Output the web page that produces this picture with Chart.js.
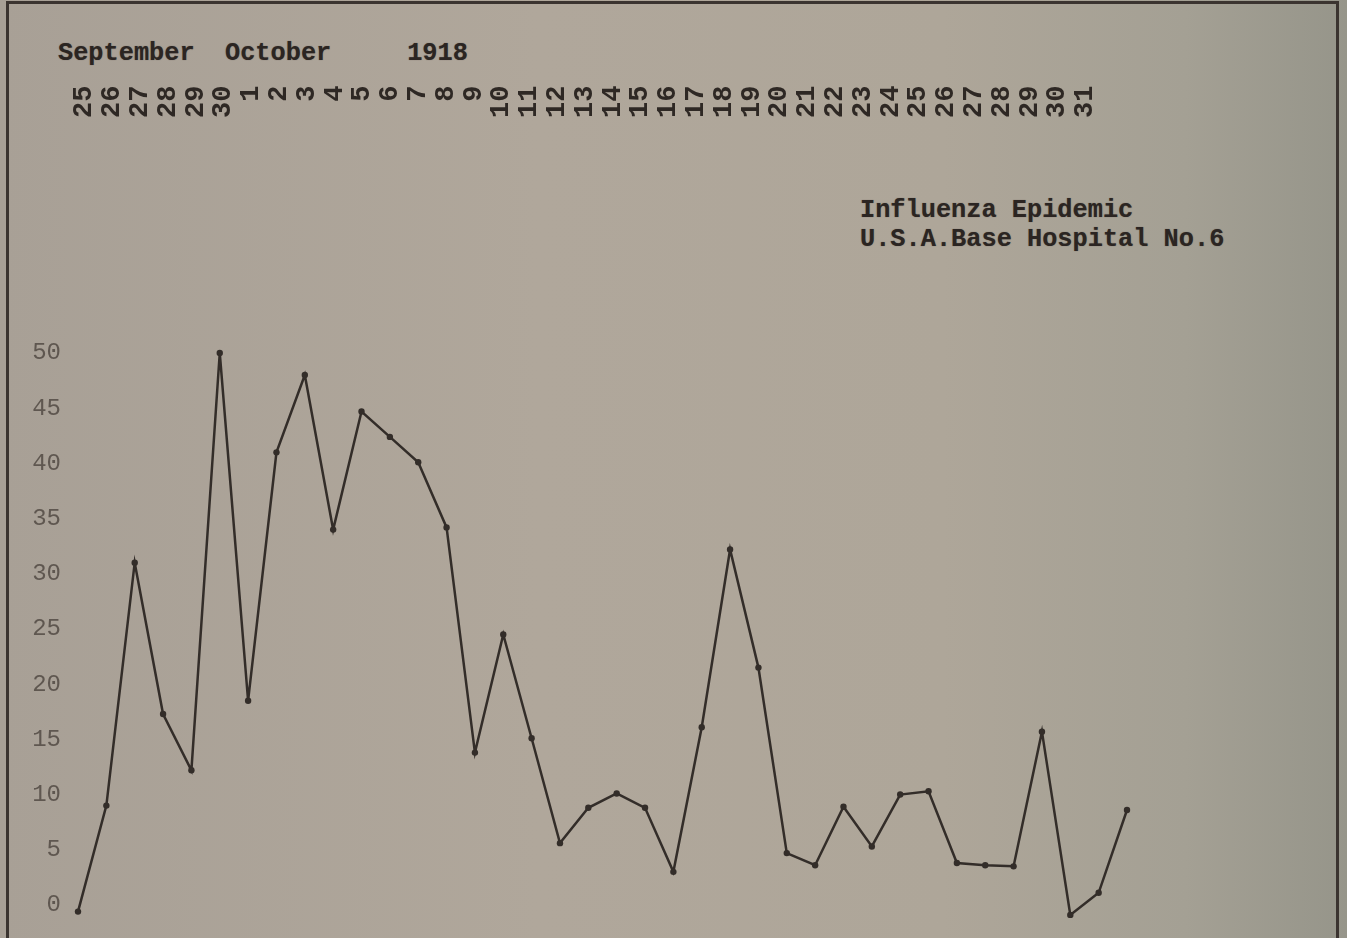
<!DOCTYPE html>
<html>
<head>
<meta charset="utf-8">
<title>Influenza Epidemic - U.S.A. Base Hospital No.6</title>
<script src="https://cdn.jsdelivr.net/npm/chart.js@4/dist/chart.umd.min.js"></script>
<style>
    html, body { margin: 0; padding: 0; }
    body {
        width: 1347px;
        height: 938px;
        overflow: hidden;
        position: relative;
        background: linear-gradient(90deg, #a8a096 0%, #b0a79b 40%, #aea699 70%, #a4a094 88%, #96958a 100%);
        font-family: "Liberation Mono", "DejaVu Sans Mono", monospace;
        color: #2b2522;
    }
    #frame {
        position: absolute;
        left: 6px;
        top: 1px;
        width: 1327px;
        height: 960px;
        border: 3px solid #3b3430;
        border-bottom: none;
    }
    .typed {
        position: absolute;
        white-space: pre;
        font-size: 25.3px;
        font-weight: bold;
        text-shadow: 0 0 1px rgba(40, 30, 25, 0.5);
    }
    #months { left: 58px; top: 41px; line-height: 25px; }
    #note { left: 860px; top: 196px; line-height: 29px; }
    #chart { position: absolute; left: 0; top: 0; }
</style>
</head>
<body>
<div id="frame"></div>
<div class="typed" id="months">September  October     1918</div>
<div class="typed" id="note">Influenza Epidemic
U.S.A.Base Hospital No.6</div>
<canvas id="chart" width="1347" height="938"></canvas>

<script>
// --- data ---

// day numbers typed along the top (Sept 25 - Oct 31); leading space keeps single digits at the top row
const dayLabels = [
    '25', '26', '27', '28', '29', '30',
    ' 1', ' 2', ' 3', ' 4', ' 5', ' 6', ' 7', ' 8', ' 9', '10',
    '11', '12', '13', '14', '15', '16', '17', '18', '19', '20',
    '21', '22', '23', '24', '25', '26', '27', '28', '29', '30', '31'
];

// plotted readings, left to right
const cases = [
    -0.6, 9, 31, 17.3, 12.2, 50, 18.5, 41, 48, 34,
    44.7, 42.4, 40.1, 34.2, 13.8, 24.5, 15.1, 5.6, 8.8, 10.1,
    8.8, 3.0, 16.1, 32.2, 21.5, 4.7, 3.6, 8.9, 5.3, 10.0,
    10.3, 3.8, 3.6, 3.5, 15.7, -0.9, 1.1, 8.6
];

// y-axis tick values that were typed on the left
const yTickValues = [0, 5, 10, 15, 20, 25, 30, 35, 40, 45, 50];

const ink = '#332d29';

new Chart(document.getElementById('chart'), {
    type: 'line',
    data: {
        labels: cases.map((_, i) => i),
        datasets: [{
            data: cases,
            borderColor: ink,
            backgroundColor: ink,
            borderWidth: 2.5,
            pointRadius: 3.2,
            pointBackgroundColor: ink,
            pointBorderWidth: 0,
            tension: 0,
            fill: false,
            clip: false
        }]
    },
    options: {
        responsive: false,
        animation: false,
        layout: { padding: { left: 0, right: 220, top: 0, bottom: 0 } },
        plugins: {
            legend: { display: false },
            tooltip: { enabled: false }
        },
        scales: {
            x: {
                display: false,
                offset: false
            },
            xTop: {
                type: 'linear',
                position: 'top',
                min: -0.144,
                max: 37.59,
                grid: { display: false, drawTicks: false },
                border: { display: false },
                afterFit: (scale) => {
                    scale.height = 125;
                    scale.paddingLeft = 0;
                    scale.paddingRight = 0;
                },
                ticks: {
                    stepSize: 1,
                    includeBounds: false,
                    autoSkip: false,
                    minRotation: 90,
                    maxRotation: 90,
                    padding: 7,
                    labelOffset: 35,
                    color: '#2e2824',
                    font: { family: '"Liberation Mono", monospace', size: 27, weight: 'bold' },
                    callback: (v) => (Number.isInteger(v) && dayLabels[v] !== undefined) ? dayLabels[v] : ''
                }
            },
            y: {
                min: -2.63,
                max: 70.65,
                grid: { display: false, drawTicks: false },
                border: { display: false },
                afterFit: (scale) => {
                    scale.width = 78;
                    scale.paddingTop = 0;
                    scale.paddingBottom = 0;
                },
                afterBuildTicks: (scale) => {
                    scale.ticks = yTickValues.map(v => ({ value: v }));
                },
                ticks: {
                    padding: 17,
                    crossAlign: 'near',
                    color: '#5f5750',
                    font: { family: '"Liberation Mono", monospace', size: 24 },
                    callback: (v) => String(v)
                }
            }
        }
    }
});
</script>
</body>
</html>
